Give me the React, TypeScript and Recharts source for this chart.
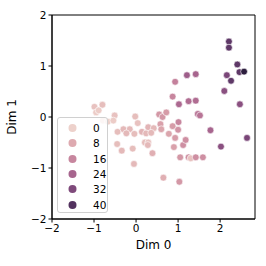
import { ScatterChart, Scatter, XAxis, YAxis, ReferenceArea } from 'recharts'

// point coordinates and hue
const dim0 = [
  -0.99, -0.8, -0.95, -0.89, -0.79, -0.67, -0.51, -0.54, -0.44, -0.3, -0.15, -0.23, -0.04, -0.02, 0.04,
  -0.45, -0.34, -0.08, -0.05, 0.14, 0.24, 0.29, 0.42, 0.36, 0.21, 0.29, 0.28, 0.39, 0.55, 0.63,
  0.72, 0.58, 0.6, 0.78, 0.87, 1.01, 1.0, 0.93, 0.9, 1.12, 1.18, 1.05, 1.25, 1.3, 1.42,
  1.59, 0.65, 1.03, 0.87, 1.02, 1.25, 1.42, 0.93, 1.21, 1.42, 1.47, 1.52, 1.77, 2.02,
  2.64, 2.1, 2.16, 2.21, 2.21, 2.26, 2.41, 2.46, 2.57, 2.47,
]
const dim1 = [
  0.2, 0.24, 0.09, 0.13, -0.07, -0.09, 0.03, -0.07, -0.29, -0.24, -0.24, -0.32, -0.33, 0.01, -0.12,
  -0.53, -0.66, -0.62, -0.92, -0.29, -0.32, -0.2, -0.22, -0.31, -0.5, -0.5, -0.55, -0.71, 0.05, 0.0,
  0.09, -0.14, -0.24, -0.33, -0.18, -0.1, -0.25, -0.41, -0.59, -0.55, -0.45, -0.79, -0.79, -0.81, -0.79,
  -0.79, -1.19, -1.27, 0.4, 0.25, 0.31, 0.32, 0.69, 0.82, 0.84, 0.06, 0.03, -0.26, -0.58,
  -0.41, 0.51, 0.82, 1.48, 1.36, 0.71, 1.03, 0.88, 0.89, 0.25,
]
const hue = [
  3, 4, 1, 1, 0, 0, 3, 1, 4, 5, 5, 5, 4, 4, 3,
  4, 5, 4, 5, 6, 5, 6, 5, 5, 4, 3, 5, 7, 12, 12,
  11, 10, 9, 9, 11, 16, 13, 11, 10, 14, 14, 12, 14, 3, 14,
  14, 7, 12, 16, 23, 22, 22, 17, 26, 24, 20, 20, 24, 30,
  33, 30, 33, 38, 38, 38, 38, 38, 47, 30,
]
const legendHues = [0, 8, 16, 24, 32, 40]
const xTicks = [-2, -1, 0, 1, 2]
const yTicks = [-2, -1, 0, 1, 2]

const HUE_MIN = Math.min(...hue)
const HUE_MAX = Math.max(...hue)

// seaborn cubehelix_palette(as_cmap=True) defaults
function hueColor(v: number) {
  const t = (v - HUE_MIN) / (HUE_MAX - HUE_MIN)
  const x = 0.85 + (0.15 - 0.85) * t
  const a = (0.8 * x * (1 - x)) / 2
  const phi = 2 * Math.PI * (0.4 * x)
  const c = Math.cos(phi)
  const s = Math.sin(phi)
  const ch = (p0: number, p1: number) => {
    const val = Math.min(1, Math.max(0, x + a * (p0 * c + p1 * s)))
    return Math.round(val * 255)
  }
  return `rgb(${ch(-0.14861, 1.78277)},${ch(-0.29227, -0.90649)},${ch(1.97294, 0)})`
}

const points = dim0.map((x, i) => ({ x, y: dim1[i], hue: hue[i] }))

const FONT = '"DejaVu Sans", sans-serif'
const fmt = (v: number) => (v < 0 ? '\u2212' + Math.abs(v) : String(v))

function Dot(props: any) {
  const { cx, cy, payload } = props
  if (cx == null || cy == null) return null
  return <circle cx={cx} cy={cy} r={3.4} fill={hueColor(payload.hue)} stroke="#fff" strokeWidth={0.6} />
}

function XLabel(props: any) {
  const vb = props.viewBox
  return (
    <text x={vb.x + vb.width / 2} y={249} textAnchor="middle" fontSize={12} fontFamily={FONT} fill="#000">
      Dim 0
    </text>
  )
}

function YLabel(props: any) {
  const vb = props.viewBox
  const cy = vb.y + vb.height / 2
  return (
    <text x={16} y={cy} textAnchor="middle" fontSize={12} fontFamily={FONT} fill="#000" transform={`rotate(-90 16 ${cy})`}>
      Dim 1
    </text>
  )
}

export default function App() {
  return (
    <div style={{ position: 'absolute', left: 0, top: 0, width: 266, height: 266, background: '#fff' }}>
      <ScatterChart width={266} height={266} margin={{ top: 15, right: 11, bottom: 0, left: 0 }}>
        <XAxis
          type="number"
          dataKey="x"
          domain={[-2, 2.83]}
          ticks={xTicks}
          allowDataOverflow
          tickFormatter={fmt}
          tick={{ fill: '#000', fontSize: 10.5, fontFamily: FONT }}
          tickSize={3.5}
          tickLine={{ stroke: '#000' }}
          axisLine={{ stroke: '#000' }}
          height={47}
          label={<XLabel />}
        />
        <YAxis
          type="number"
          dataKey="y"
          domain={[-2, 2]}
          ticks={yTicks}
          allowDataOverflow
          tickFormatter={fmt}
          tick={{ fill: '#000', fontSize: 10.5, fontFamily: FONT }}
          tickSize={3.5}
          tickLine={{ stroke: '#000' }}
          axisLine={{ stroke: '#000' }}
          width={52}
          label={<YLabel />}
        />
        <ReferenceArea x1={-2} x2={2.83} y1={-2} y2={2} fill="none" stroke="#000" strokeWidth={1} ifOverflow="visible" />
        <Scatter data={points} shape={<Dot />} isAnimationActive={false} />
      </ScatterChart>
      <div
        style={{
          position: 'absolute',
          left: 57,
          top: 117,
          width: 49,
          height: 94,
          border: '1px solid #d0d0d0',
          borderRadius: 3,
          background: 'rgba(255,255,255,0.8)',
          fontFamily: FONT,
          fontSize: 10.5,
        }}
      >
        {legendHues.map((h, i) => (
          <div key={h} style={{ position: 'absolute', left: 0, top: 3 + i * 15.3, height: 14, width: 49 }}>
            <svg width={20} height={14} style={{ position: 'absolute', left: 5, top: 0 }}>
              <circle cx={9.5} cy={7} r={4} fill={hueColor(h)} />
            </svg>
            <span style={{ position: 'absolute', left: 35, top: 0, lineHeight: '14px', color: '#000' }}>{h}</span>
          </div>
        ))}
      </div>
    </div>
  )
}
